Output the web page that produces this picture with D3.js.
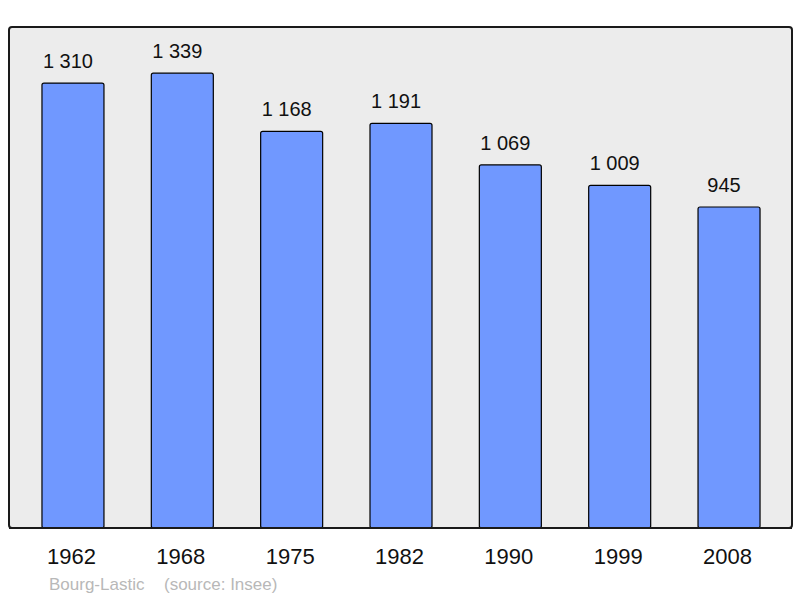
<!DOCTYPE html>
<html><head><meta charset="utf-8">
<script src="https://cdn.jsdelivr.net/npm/d3@7"></script>
<style>body{margin:0;background:#fff}svg{display:block}</style>
</head><body>
<script>
const years = ["1962","1968","1975","1982","1990","1999","2008"];
const population = [1310,1339,1168,1191,1069,1009,945];
const valueLabels = ["1 310","1 339","1 168","1 191","1 069","1 009","945"];
const townName = "Bourg-Lastic";
const sourceText = "(source: Insee)";

const W = 800, H = 598;
const FONT = "Liberation Sans, Arial, sans-serif";
const svg = d3.select("body").append("svg").attr("width", W).attr("height", H);
const frame = {x0: 9, y0: 27, x1: 792, y1: 528};

svg.append("rect").attr("x", frame.x0).attr("y", frame.y0)
  .attr("width", frame.x1 - frame.x0).attr("height", frame.y1 - frame.y0)
  .attr("rx", 3).attr("fill", "#ececec").attr("stroke", "#1a1a1a").attr("stroke-width", 2);

const x = d3.scaleBand().domain(years).range([18.3, 783.7]).paddingInner(0.433).paddingOuter(0.2165);
const y = d3.scaleLinear().domain([0, 1475]).range([frame.y1, frame.y0]);

svg.selectAll("rect.bar").data(years).enter().append("rect").attr("class","bar")
  .attr("x", d => x(d)).attr("width", x.bandwidth())
  .attr("y", (d,i) => y(population[i])).attr("height", (d,i) => frame.y1 - y(population[i]))
  .attr("rx", 2).attr("fill", "#7098ff").attr("stroke", "#000").attr("stroke-width", 1.2);

svg.append("line").attr("x1", frame.x0).attr("x2", frame.x1).attr("y1", frame.y1).attr("y2", frame.y1)
  .attr("stroke", "#1a1a1a").attr("stroke-width", 2);

svg.selectAll("text.val").data(years).enter().append("text").attr("class","val")
  .attr("x", d => x(d) + x.bandwidth()/2 - 5).attr("y", (d,i) => y(population[i]) - 15)
  .attr("text-anchor","middle").attr("font-family", FONT)
  .attr("font-size", 20).attr("fill","#111").text((d,i) => valueLabels[i]);

const axis = d3.axisBottom(x).tickSize(0).tickPadding(0);
const g = svg.append("g").attr("transform", `translate(0,${frame.y1})`).call(axis);
g.select(".domain").remove();
g.selectAll("text").attr("x", -1.5).attr("y", 36).attr("dy", 0).attr("font-family", FONT)
  .attr("font-size", 22).attr("fill","#111");

svg.append("text").attr("x", 49).attr("y", 590).attr("font-family", FONT)
  .attr("font-size", 17).attr("fill","#b8b8b8").text(townName);
svg.append("text").attr("x", 164).attr("y", 590).attr("font-family", FONT)
  .attr("font-size", 17).attr("fill","#b8b8b8").text(sourceText);
</script>
</body></html>
